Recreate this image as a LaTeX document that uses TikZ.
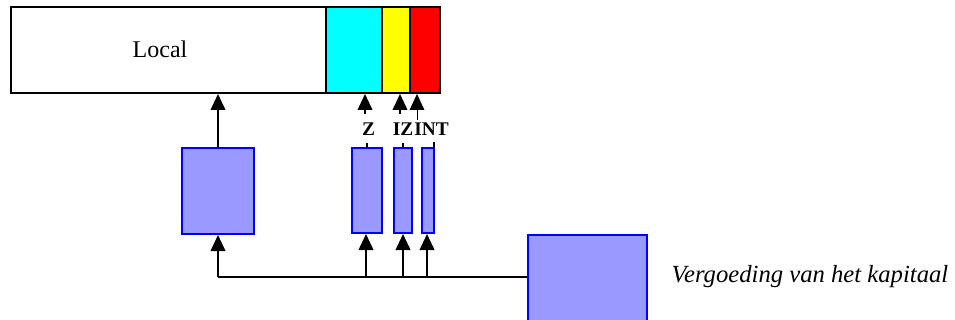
\documentclass[tikz,border=0pt]{standalone}
\usepackage{fontspec}
\setmainfont{Liberation Serif}
\usetikzlibrary{arrows.meta}
\definecolor{boxfill}{RGB}{153,153,255}
\definecolor{boxline}{RGB}{0,0,255}
\definecolor{cyanc}{RGB}{0,255,255}
\definecolor{yellowc}{RGB}{255,255,0}
\definecolor{redc}{RGB}{255,0,0}
\begin{document}
\begin{tikzpicture}[x=0.75pt,y=-0.75pt,
  bluebox/.style={draw=boxline,fill=boxfill,line width=1.5pt,inner sep=0pt},
  seg/.style={draw=black,line width=1.5pt,inner sep=0pt},
  arr/.style={line width=1.3pt,-{Triangle[width=11pt,length=12pt]}},
  lnk/.style={line width=1.3pt},
  lbl/.style={font=\bfseries\fontsize{14.5}{16}\selectfont,inner sep=0pt}]
\useasboundingbox (0,0) rectangle (955,320);
\clip (0,0) rectangle (955,320);
% top bar
\node[seg,fill=white,minimum width=315*0.75pt,minimum height=86*0.75pt,anchor=north west] (local) at (10,6) {};
\node[font=\fontsize{18}{20}\selectfont] (localtxt) at (160,49) {Local};
\node[seg,fill=cyanc,minimum width=56*0.75pt,minimum height=86*0.75pt,anchor=north west] (cz) at (325,6) {};
\node[seg,fill=yellowc,minimum width=28*0.75pt,minimum height=86*0.75pt,anchor=north west] (ciz) at (381,6) {};
\node[seg,fill=redc,minimum width=30*0.75pt,minimum height=86*0.75pt,anchor=north west] (cint) at (409,6) {};
% blue boxes
\node[bluebox,minimum width=72*0.75pt,minimum height=86*0.75pt,anchor=north west] (b0) at (181,147) {};
\node[bluebox,minimum width=30*0.75pt,minimum height=85*0.75pt,anchor=north west] (b1) at (351,147) {};
\node[bluebox,minimum width=18*0.75pt,minimum height=85*0.75pt,anchor=north west] (b2) at (393,147) {};
\node[bluebox,minimum width=12*0.75pt,minimum height=85*0.75pt,anchor=north west] (b3) at (421,147) {};
\node[bluebox,minimum width=119*0.75pt,minimum height=100*0.75pt,anchor=north west] (src) at (527,234) {};
\node[font=\itshape\fontsize{18.5}{21}\selectfont,anchor=west] (cap) at (667,277) {Vergoeding van het kapitaal};
% labels
\node[lbl,anchor=base] (lz) at (368.5,136) {Z};
\node[lbl,anchor=base] (liz) at (403,136) {IZ};
\node[lbl,anchor=base west] (lint) at (414,136) {INT};
% arrows up to bar
\draw[arr] (b0.north) -- (b0.north |- local.south);
\coordinate (za) at (365,114);
\coordinate (iza) at (400,114);
\coordinate (inta) at (417,120);
\draw[arr] (za) -- (za |- cz.south);
\draw[arr] (iza) -- (iza |- cz.south);
\draw[arr,line width=0.6pt] (inta) -- (inta |- cz.south);
% ticks on box tops
\draw[lnk] (b1.north) -- ++(0,-4);
\draw[lnk] (b2.north) -- ++(0,-4);
\draw[lnk] ([xshift=-0.5pt]b3.north east) -- ++(0,-5);
% bottom distribution
\coordinate (j0) at (218,277);
\draw[lnk] (j0) -- (j0 -| src.west);
\draw[arr] (j0) -- (j0 |- b0.south);
\coordinate (j1) at (366,277);
\coordinate (j2) at (403,277);
\coordinate (j3) at (427,277);
\draw[arr] (j1) -- (j1 |- b1.south);
\draw[arr] (j2) -- (j2 |- b2.south);
\draw[arr] (j3) -- (j3 |- b3.south);
\end{tikzpicture}
\end{document}
